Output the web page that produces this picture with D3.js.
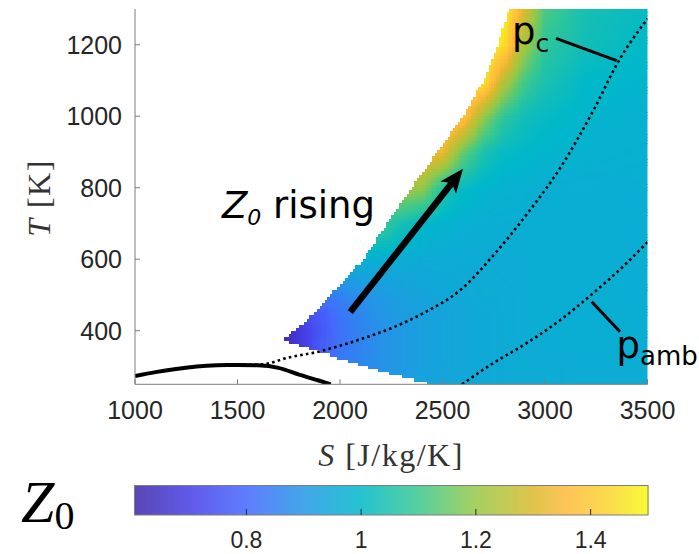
<!DOCTYPE html>
<html><head><meta charset="utf-8">
<script src="https://cdn.jsdelivr.net/npm/d3@7"></script>
<style>body{margin:0;background:#fff}svg{display:block}</style>
</head><body>
<svg id="chart" width="699" height="554"></svg>
<script>
// Axis ticks
const xTicks = [1000, 1500, 2000, 2500, 3000, 3500];
const yTicks = [400, 600, 800, 1000, 1200];
const cbTicks = [0.8, 1, 1.2, 1.4];
const zMin = 0.605, zMax = 1.5;

// Z0 colormap (parula-like), stops as fraction of [zMin, zMax]
const colorStops = [0, 0.11, 0.22, 0.33, 0.44, 0.55, 0.665, 0.78, 0.84, 0.93, 1];
const colorHex = ["#3e26a8", "#463ee6", "#4468fe", "#2396e6", "#00b8ca", "#37c891",
                  "#96c846", "#dcb92d", "#feb93c", "#fad72d", "#f8fa14"];

// Z0 field sampled on an (S, T) grid
const zGridS = [1700, 1800, 1900, 2000, 2100, 2200, 2300, 2400, 2500, 2600, 2700, 2800, 2900, 3000, 3200, 3500];
const zGridT = [250, 300, 350, 400, 450, 500, 600, 700, 800, 900, 1000, 1100, 1200, 1300];
const zGrid = [
  [0.80,0.82,0.84,0.86,0.88,0.90,0.92,0.94,0.945,0.95,0.955,0.96,0.96,0.96,0.965,0.965],
  [0.70,0.75,0.80,0.84,0.87,0.89,0.91,0.93,0.94,0.95,0.955,0.96,0.96,0.96,0.965,0.965],
  [0.62,0.68,0.77,0.83,0.86,0.89,0.91,0.93,0.94,0.95,0.955,0.96,0.96,0.965,0.97,0.97],
  [0.62,0.68,0.76,0.82,0.86,0.89,0.91,0.93,0.94,0.95,0.955,0.96,0.965,0.97,0.97,0.97],
  [0.72,0.73,0.77,0.83,0.87,0.90,0.92,0.93,0.94,0.95,0.955,0.96,0.965,0.97,0.97,0.97],
  [0.84,0.84,0.84,0.86,0.89,0.91,0.93,0.94,0.95,0.955,0.96,0.96,0.965,0.97,0.97,0.97],
  [0.98,0.98,0.98,0.98,0.98,0.97,0.965,0.96,0.96,0.96,0.96,0.965,0.965,0.97,0.97,0.97],
  [1.10,1.10,1.10,1.10,1.10,1.10,1.04,1.00,0.985,0.975,0.97,0.97,0.97,0.97,0.97,0.97],
  [1.22,1.22,1.22,1.22,1.22,1.22,1.22,1.20,1.06,1.01,0.99,0.98,0.975,0.97,0.97,0.97],
  [1.36,1.36,1.36,1.36,1.36,1.36,1.36,1.36,1.33,1.15,1.05,1.01,1.00,0.99,0.98,0.975],
  [1.44,1.44,1.44,1.44,1.44,1.44,1.44,1.44,1.44,1.40,1.20,1.08,1.03,1.01,0.99,0.98],
  [1.48,1.48,1.48,1.48,1.48,1.48,1.48,1.48,1.48,1.48,1.47,1.25,1.11,1.05,1.00,0.99],
  [1.50,1.50,1.50,1.50,1.50,1.50,1.50,1.50,1.50,1.50,1.50,1.45,1.22,1.08,1.03,1.00],
  [1.50,1.50,1.50,1.50,1.50,1.50,1.50,1.50,1.50,1.50,1.50,1.50,1.30,1.12,1.04,1.01]
];

// Boundaries of the computed state region (S, T)
const upperEdge = [[1720,373],[1780,400],[1875,450],[1955,500],[2115,600],[2230,700],
                   [2350,800],[2475,900],[2600,1000],[2700,1100],[2770,1200],[2825,1300]];
const lowerEdge = [[1720,373],[1800,360],[1910,341],[2000,323],[2110,304],[2200,287],
                   [2280,274],[2400,259],[2440,250]];

// Saturation dome and isobars (S, T)
const satDome = [[1000,273],[1100,284],[1200,293],[1300,300],[1400,303.5],[1450,304],
                 [1500,304],[1600,303],[1700,296],[1800,277],[1900,260],[1955,250]];
const isobarPc = [[1500,304],[1620,306],[1750,325],[1900,342],[2000,358],[2100,376],
                  [2250,407],[2400,447],[2600,520],[2750,612],[2910,725],[3075,856],
                  [3235,1015],[3360,1155],[3500,1273]];
const isobarAmb = [[2595,250],[2750,310],[2910,365],[3075,430],[3235,505],[3400,590],[3500,648]];

const svg = d3.select("#chart");
const x = d3.scaleLinear().domain([1000, 3500]).range([135, 647.5]);
const y = d3.scaleLinear().domain([250, 1300]).range([384.3, 9]);
const zColor = d3.scaleLinear()
  .domain(colorStops.map(t => zMin + t * (zMax - zMin)))
  .range(colorHex).interpolate(d3.interpolateRgb).clamp(true);

function interp(pts, v, ki, ko) {
  if (v <= pts[0][ki]) return pts[0][ko];
  for (let i = 1; i < pts.length; i++) {
    if (v <= pts[i][ki]) {
      const f = (v - pts[i-1][ki]) / (pts[i][ki] - pts[i-1][ki]);
      return pts[i-1][ko] + f * (pts[i][ko] - pts[i-1][ko]);
    }
  }
  return pts[pts.length-1][ko];
}
const edgeS = t => interp(upperEdge, t, 1, 0);
const lowerT = s => s < 1720 ? Infinity : (s > 2440 ? 250 : interp(lowerEdge, s, 0, 1));

function zAt(s, t) {
  const i = Math.max(0, Math.min(zGridS.length - 2, d3.bisectRight(zGridS, s) - 1));
  const j = Math.max(0, Math.min(zGridT.length - 2, d3.bisectRight(zGridT, t) - 1));
  const fs = Math.max(0, Math.min(1, (s - zGridS[i]) / (zGridS[i+1] - zGridS[i])));
  const ft = Math.max(0, Math.min(1, (t - zGridT[j]) / (zGridT[j+1] - zGridT[j])));
  const a = zGrid[j][i] * (1 - fs) + zGrid[j][i+1] * fs;
  const b = zGrid[j+1][i] * (1 - fs) + zGrid[j+1][i+1] * fs;
  return a * (1 - ft) + b * ft;
}

// Build the field cells
const dS = 12.5, dT = 8.75;
const cells = [];
for (let t = 250; t < 1300 - 1e-6; t += dT) {
  for (let s = 1700; s < 3500 - 1e-6; s += dS) {
    const sc = s + dS / 2, tc = t + dT / 2;
    if (sc >= edgeS(tc) && tc >= lowerT(sc)) cells.push({s, t, z: zAt(sc, tc)});
  }
}

svg.append("defs").append("clipPath").attr("id", "plotClip")
  .append("rect").attr("x", 135).attr("y", 9).attr("width", 512.5).attr("height", 375.3);

const plot = svg.append("g").attr("clip-path", "url(#plotClip)");
plot.append("g").attr("shape-rendering", "crispEdges")
  .selectAll("rect").data(cells).join("rect")
  .attr("x", d => x(d.s)).attr("y", d => y(d.t + dT))
  .attr("width", d => x(d.s + dS) - x(d.s) + 0.4)
  .attr("height", d => y(d.t) - y(d.t + dT) + 0.4)
  .attr("fill", d => zColor(d.z));

const line = d3.line().x(d => x(d[0])).y(d => y(d[1])).curve(d3.curveMonotoneX);
plot.append("path").datum(isobarPc).attr("d", line).attr("fill", "none")
  .attr("stroke", "#000").attr("stroke-width", 2.6).attr("stroke-dasharray", "2.6,3.2");
plot.append("path").datum(isobarAmb).attr("d", line).attr("fill", "none")
  .attr("stroke", "#000").attr("stroke-width", 2.6).attr("stroke-dasharray", "2.6,3.2");
plot.append("path").datum(satDome).attr("d", line).attr("fill", "none")
  .attr("stroke", "#000").attr("stroke-width", 4);

// Axes
const axisColor = "#7d7d7d", textColor = "#262626";
const ax = svg.append("g");
ax.append("line").attr("x1", 135).attr("x2", 135).attr("y1", 9).attr("y2", 384.3)
  .attr("stroke", axisColor).attr("stroke-width", 1);
ax.append("line").attr("x1", 135).attr("x2", 647.5).attr("y1", 384.3).attr("y2", 384.3)
  .attr("stroke", axisColor).attr("stroke-width", 1);
ax.selectAll(".yt").data(yTicks).join("line").attr("class", "yt")
  .attr("x1", 135).attr("x2", 140).attr("y1", d => y(d)).attr("y2", d => y(d))
  .attr("stroke", axisColor);
ax.selectAll(".xt").data(xTicks).join("line").attr("class", "xt")
  .attr("x1", d => x(d)).attr("x2", d => x(d)).attr("y1", 384.3).attr("y2", 379.3)
  .attr("stroke", axisColor);
ax.selectAll(".yl").data(yTicks).join("text").attr("class", "yl")
  .attr("x", 122).attr("y", d => y(d)).attr("dy", "0.36em").attr("text-anchor", "end")
  .attr("font-family", "Liberation Sans, Arial, sans-serif").attr("font-size", 25)
  .attr("fill", textColor).text(d => d);
ax.selectAll(".xl").data(xTicks).join("text").attr("class", "xl")
  .attr("x", d => x(d)).attr("y", 419).attr("text-anchor", "middle")
  .attr("font-family", "Liberation Sans, Arial, sans-serif").attr("font-size", 25)
  .attr("fill", textColor).text(d => d);

// Axis titles
const xt = svg.append("text").attr("x", 391).attr("y", 466).attr("text-anchor", "middle")
  .attr("font-family", "Liberation Serif, serif").attr("font-size", 32)
  .attr("letter-spacing", 1.5).attr("fill", "#333");
xt.append("tspan").attr("font-style", "italic").text("S");
xt.append("tspan").text(" [J/kg/K]");
const yt = svg.append("text").attr("transform", "translate(50,198) rotate(-90)")
  .attr("text-anchor", "middle")
  .attr("font-family", "Liberation Serif, serif").attr("font-size", 32)
  .attr("letter-spacing", 1.5).attr("fill", "#333");
yt.append("tspan").attr("font-style", "italic").text("T");
yt.append("tspan").text(" [K]");

// Annotations
const sans = "DejaVu Sans, Verdana, sans-serif";
const zr = svg.append("text").attr("x", x(1424)).attr("y", y(714))
  .attr("font-family", sans).attr("font-size", 37).attr("fill", "#000");
zr.append("tspan").attr("font-style", "italic").text("Z");
zr.append("tspan").attr("font-style", "italic").attr("font-size", 22).attr("dy", 7).text("0");
zr.append("tspan").attr("dy", -7).text(" rising");

const arrowTail = [2050, 452], arrowTip = [2600, 853];
{
  const x0 = x(arrowTail[0]), y0 = y(arrowTail[1]), x1 = x(arrowTip[0]), y1 = y(arrowTip[1]);
  const ang = Math.atan2(y1 - y0, x1 - x0);
  const L = 24, W = 10, back = 18;
  const bx = x1 - back * Math.cos(ang), by = y1 - back * Math.sin(ang);
  svg.append("line").attr("x1", x0).attr("y1", y0).attr("x2", bx).attr("y2", by)
    .attr("stroke", "#000").attr("stroke-width", 6.5);
  const px = -Math.sin(ang), py = Math.cos(ang);
  const hx = x1 - L * Math.cos(ang), hy = y1 - L * Math.sin(ang);
  svg.append("path").attr("fill", "#000").attr("d",
    `M${x1},${y1} L${hx + W*px},${hy + W*py} L${bx},${by} L${hx - W*px},${hy - W*py} Z`);
}

const pc = svg.append("text").attr("x", x(2839)).attr("y", y(1203))
  .attr("font-family", sans).attr("font-size", 37).attr("fill", "#000");
pc.append("tspan").text("p");
pc.append("tspan").attr("font-size", 25).attr("dy", 8).text("c");
svg.append("line").attr("x1", 556).attr("y1", 38.3).attr("x2", 616.7).attr("y2", 60.7)
  .attr("stroke", "#000").attr("stroke-width", 3);

const pa = svg.append("text").attr("x", x(3349)).attr("y", y(323))
  .attr("font-family", sans).attr("font-size", 37).attr("fill", "#000");
pa.append("tspan").text("p");
pa.append("tspan").attr("font-size", 26).attr("dy", 7).text("amb");
svg.append("line").attr("x1", 591.7).attr("y1", 301.7).attr("x2", 620).attr("y2", 331.7)
  .attr("stroke", "#000").attr("stroke-width", 3);

// Colorbar
const cbX = d3.scaleLinear().domain([zMin, zMax]).range([134.5, 648]);
const cbTop = 485.5, cbH = 29.5;
const cb = svg.append("g");
cb.selectAll("rect").data(d3.range(134.5, 648, 1)).join("rect")
  .attr("x", d => d).attr("y", cbTop).attr("width", 1.2).attr("height", cbH)
  .attr("fill", d => zColor(cbX.invert(d + 0.5)));
cb.append("rect").attr("x", 134.5).attr("y", cbTop).attr("width", 513.5).attr("height", cbH)
  .attr("fill", "none").attr("stroke", "#7d7d7d").attr("stroke-width", 1);
cb.selectAll(".ct").data(cbTicks).join("line").attr("class", "ct")
  .attr("x1", d => cbX(d)).attr("x2", d => cbX(d))
  .attr("y1", cbTop + cbH).attr("y2", cbTop + cbH - 6).attr("stroke", "#262626");
cb.selectAll(".cl").data(cbTicks).join("text").attr("class", "cl")
  .attr("x", d => cbX(d)).attr("y", 548).attr("text-anchor", "middle")
  .attr("font-family", "Liberation Sans, Arial, sans-serif").attr("font-size", 23)
  .attr("fill", textColor).text(d => d);

const zl = svg.append("text").attr("x", 21).attr("y", 522)
  .attr("font-family", "Liberation Serif, serif").attr("font-size", 60).attr("fill", "#000");
zl.append("tspan").attr("font-style", "italic").text("Z");
zl.append("tspan").attr("font-size", 40).attr("dy", 7).text("0");
</script>
</body></html>
